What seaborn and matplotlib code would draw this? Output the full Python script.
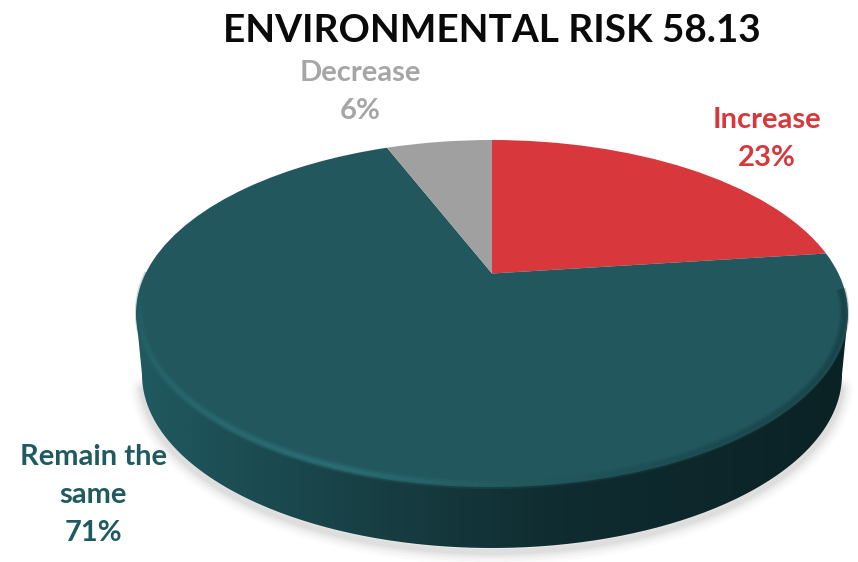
import numpy as np
import matplotlib
matplotlib.use("Agg")
import matplotlib.pyplot as plt
import seaborn as sns
from matplotlib.collections import LineCollection
from matplotlib.colors import LinearSegmentedColormap
from matplotlib.patches import PathPatch
from matplotlib.path import Path
from matplotlib.transforms import Transform

categories = ["Increase", "Remain the\nsame", "Decrease"]
shares = [23, 71, 6]
colors = ["#d8373c", "#21575d", "#a0a0a0"]
label_colors = ["#d8373c", "#1f5a60", "#a6a6a6"]
title = "ENVIRONMENTAL RISK 58.13"

sns.set_theme(style="white")
plt.rcParams["font.family"] = ["Lato", "DejaVu Sans"]

CX, CY, RX, RY, APEX_LIFT = 492.0, 313.5, 356.0, 173.5, 40.0
DEPTH, BOTTOM_RX = 61.0, 350.0


class Tilted(Transform):
    """Perspective view of the unit disc, in canvas pixels."""
    input_dims = output_dims = 2
    is_separable = False
    has_inverse = False

    def transform_non_affine(self, values):
        xy = np.asarray(values, dtype=float)
        k = APEX_LIFT / RY
        w = 1 + k * xy[:, 1]
        px = CX + RX * np.sqrt(1 - k * k) * xy[:, 0] / w
        py = CY - (RY * xy[:, 1] + APEX_LIFT) / w
        return np.column_stack([px, py])


fig = plt.figure(figsize=(8.58, 5.62), dpi=100, facecolor="white")
ax = fig.add_axes([0, 0, 1, 1])

# Soft drop shadow under the disc
t = np.linspace(np.pi * 1.02, np.pi * 1.98, 240)
low_x = CX + BOTTOM_RX * np.cos(t)
low_y = CY + DEPTH - RY * np.sin(t)
for lw, a in zip([18, 14, 10, 7, 4], [0.02, 0.03, 0.035, 0.05, 0.06]):
    ax.plot(low_x, low_y + 4, color="#555555", lw=lw, alpha=a,
            solid_capstyle="round", zorder=1)

# Side wall, shaded from left to right
top_t = np.linspace(np.pi, 2 * np.pi, 240)
outline_x = np.concatenate([[CX - RX], CX + BOTTOM_RX * np.cos(top_t), [CX + RX]])
outline_y = np.concatenate([[CY], CY + DEPTH - RY * np.sin(top_t), [CY]])
wall = Path(np.column_stack([outline_x, outline_y]))
wall_map = LinearSegmentedColormap.from_list(
    "wall",
    [(0.0, "#205a60"), (0.10, "#1d5157"), (0.38, "#163b40"),
     (0.60, "#0f2c30"), (1.0, "#0b2225")],
)
gradient = np.linspace(0, 1, 512).reshape(1, -1)
side = ax.imshow(gradient, cmap=wall_map, aspect="auto", zorder=2,
                 extent=(CX - RX, CX + RX, 562, 0))
side.set_clip_path(PathPatch(wall, transform=ax.transData))

# Top surface
wedges, _ = ax.pie(shares, colors=colors, startangle=90, counterclock=False,
                   wedgeprops={"linewidth": 0})
tilt = Tilted()
for w in wedges:
    w.set_transform(tilt + ax.transData)
    w.set_zorder(3)
    w.set_clip_on(False)

# Bevelled highlight along the front edge of the surface
a = np.linspace(np.pi * 1.0, np.pi * 1.97, 400)
rim = tilt.transform(np.column_stack([np.cos(a) * 0.99, np.sin(a) * 0.99]))
segments = np.stack([rim[:-1], rim[1:]], axis=1)
bevel_map = LinearSegmentedColormap.from_list(
    "bevel",
    [(0.0, "#21575d"), (0.12, "#26656b"), (0.40, "#2e7278"),
     (0.55, "#21575d"), (0.72, "#1a474c"), (1.0, "#173f44")],
)
for lw, alpha in [(7, 0.25), (4.5, 0.4), (2.2, 0.6)]:
    lc = LineCollection(segments, cmap=bevel_map, linewidths=lw, alpha=alpha,
                        capstyle="butt", zorder=4)
    lc.set_array(np.linspace(0, 1, len(segments)))
    ax.add_collection(lc)

ax.set_aspect("auto")
ax.set_xlim(0, 858)
ax.set_ylim(562, 0)
ax.axis("off")

ax.text(492, 31, title, ha="center", va="center", fontsize=27.9,
        fontweight="bold", color="#0a0a0a", zorder=6)

label_spots = [(767, 139), (93, 495), (360, 92)]
for name, value, color, (x, y) in zip(categories, shares, label_colors, label_spots):
    ax.text(x, y, f"{name}\n{value}%", ha="center", va="center", fontsize=21,
            fontweight="bold", color=color, linespacing=1.55, zorder=6)

fig.savefig("out.png", dpi=100)
